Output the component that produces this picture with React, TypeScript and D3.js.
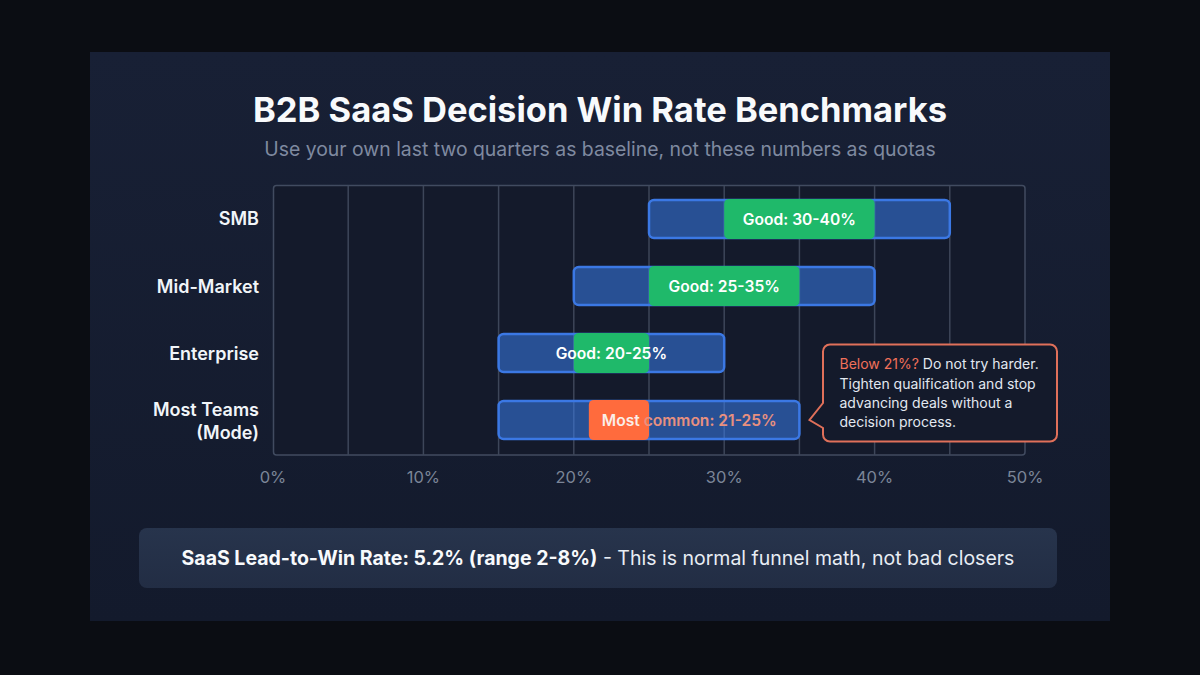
import React from "react";
import * as d3 from "d3";

const categories = ["SMB", "Mid-Market", "Enterprise", "Most Teams (Mode)"];
const rangeLow = [25, 20, 15, 15];
const rangeHigh = [45, 40, 30, 35];
const goodLow = [30, 25, 20, 21];
const goodHigh = [40, 35, 25, 25];
const ticks = [0, 10, 20, 30, 40, 50];
const gridTicks = [5, 10, 15, 20, 25, 30, 35, 40, 45];
const title = "B2B SaaS Decision Win Rate Benchmarks";
const subtitle = "Use your own last two quarters as baseline, not these numbers as quotas";

const F = "Inter, 'Noto Sans', sans-serif";

export default function App() {
  const x = d3.scaleLinear().domain([0, 50]).range([273, 1025]);
  const y = d3.scaleBand<string>().domain(categories).range([185.5, 453.5]).paddingInner(0.43).paddingOuter(0.215);
  const bh = y.bandwidth();
  return (
    <svg width={1200} height={675} viewBox="0 0 1200 675" style={{ position: "fixed", left: 0, top: 0, display: "block" }} fontFamily={F}>
      <defs>
        <linearGradient id="card" x1="0" y1="0" x2="0" y2="1">
          <stop offset="0" stopColor="#182035" />
          <stop offset="1" stopColor="#131a2c" />
        </linearGradient>
        <linearGradient id="foot" x1="0" y1="0" x2="0" y2="1">
          <stop offset="0" stopColor="#27344c" />
          <stop offset="1" stopColor="#222d44" />
        </linearGradient>
      </defs>
      <rect width={1200} height={675} fill="#0b0d13" />
      <rect x={90} y={52} width={1020} height={569} fill="url(#card)" />
      <text x={600} y={122} textAnchor="middle" fontSize={34.5} fontWeight={700} fill="#f8fafc">{title}</text>
      <text x={600} y={156} textAnchor="middle" fontSize={19.4} fill="#7f8aa0">{subtitle}</text>

      <rect x={273.5} y={185.5} width={751.5} height={269.5} rx={3} fill="#141a2b" stroke="#414b60" strokeWidth={1.5} />
      {gridTicks.map((t) => (
        <line key={t} x1={x(t)} x2={x(t)} y1={186} y2={455} stroke="#3d4659" strokeWidth={1.5} />
      ))}

      {categories.map((c, i) => {
        const by = y(c)!;
        return (
          <g key={c}>
            <rect x={x(rangeLow[i])} y={by} width={x(rangeHigh[i]) - x(rangeLow[i])} height={bh} rx={5} fill="#3b82f6" fillOpacity={0.52} stroke="#3b78e4" strokeWidth={2.5} />
            <rect x={x(goodLow[i])} y={by - 1} width={x(goodHigh[i]) - x(goodLow[i])} height={bh + 2} rx={5} fill={i === 3 ? "#ff6b3d" : "#1fb96a"} />
          </g>
        );
      })}

      {categories.slice(0, 3).map((c, i) => (
        <text key={c} x={x((goodLow[i] + goodHigh[i]) / 2)} y={y(c)! + bh / 2 + 6} textAnchor="middle" fontSize={15.6} fontWeight={600} fill="#fff">
          Good: {goodLow[i]}-{goodHigh[i]}%
        </text>
      ))}
      <text x={x(goodLow[3]) + 13} y={y(categories[3])! + bh / 2 + 6} fontSize={15.6} fontWeight={600}>
        <tspan fill="#fbeee8">Most </tspan>
        <tspan fill="#e8907f">common: {goodLow[3]}-{goodHigh[3]}%</tspan>
      </text>

      <g fontSize={18} fontWeight={600} fill="#f1f5f9" textAnchor="end">
        <text x={259} y={225}>{categories[0]}</text>
        <text x={259} y={292.5}>{categories[1]}</text>
        <text x={259} y={359.5}>{categories[2]}</text>
        <text x={259} y={416}>Most Teams</text>
        <text x={259} y={439}>(Mode)</text>
      </g>

      {ticks.map((t) => (
        <text key={t} x={x(t)} y={483} textAnchor="middle" fontSize={16.5} fill="#7b8597">{t}%</text>
      ))}

      <path
        d="M830 344.5 H1050 a7 7 0 0 1 7 7 V434.5 a7 7 0 0 1 -7 7 H830 a7 7 0 0 1 -7 -7 V428 L809.5 420 L823 403 V351.5 a7 7 0 0 1 7 -7 Z"
        fill="#141a2b"
        stroke="#e0705a"
        strokeWidth={2}
      />
      <g fontSize={14} fill="#e2e8f0">
        <text x={839.5} y={369}><tspan fill="#f0705a">Below 21%?</tspan> Do not try harder.</text>
        <text x={839.5} y={389}>Tighten qualification and stop</text>
        <text x={839.5} y={408}>advancing deals without a</text>
        <text x={839.5} y={427}>decision process.</text>
      </g>

      <rect x={139} y={528} width={918} height={60} rx={8} fill="url(#foot)" />
      <text x={598} y={565} textAnchor="middle" fontSize={19.5} fill="#e8edf4">
        <tspan fontWeight={700} fill="#f8fafc">SaaS Lead-to-Win Rate: 5.2% (range 2-8%)</tspan> - This is normal funnel math, not bad closers
      </text>
    </svg>
  );
}
